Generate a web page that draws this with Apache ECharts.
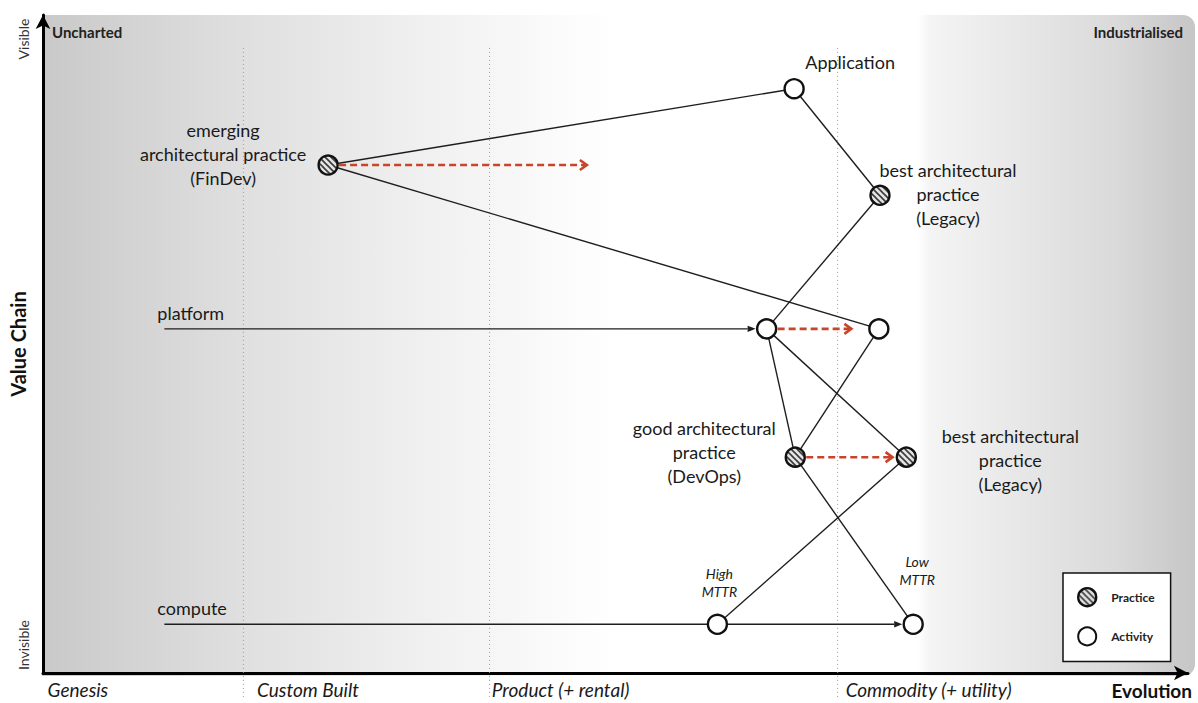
<!DOCTYPE html>
<html>
<head>
<meta charset="utf-8">
<script src="https://cdn.jsdelivr.net/npm/echarts@6/dist/echarts.min.js"></script>
<style>
html,body{margin:0;padding:0;background:#fff;}
#chart{width:1198px;height:703px;}
</style>
</head>
<body>
<div id="chart"></div>
<script>
// ---------------- DATA ----------------
const nodeIds        = ['Application','FinDev','LegacyTop','PlatformA','PlatformB','DevOps','LegacyLow','ComputeHigh','ComputeLow'];
const nodeEvolution  = [65.6, 24.9, 73.1, 63.2, 73.0, 65.7, 75.4, 58.9, 76.0];
const nodeVisibility = [88.8, 77.2, 72.6, 52.3, 52.3, 32.8, 32.8, 7.4, 7.4];
const nodeKinds      = ['Activity','Practice','Practice','Activity','Activity','Practice','Practice','Activity','Activity'];
const nodeLabels     = ['Application','emerging\narchitectural practice\n(FinDev)','best architectural\npractice\n(Legacy)','','','good architectural\npractice\n(DevOps)','best architectural\npractice\n(Legacy)','High\nMTTR','Low\nMTTR'];

const edges = [
  ['FinDev','Application'], ['FinDev','PlatformB'], ['Application','LegacyTop'],
  ['LegacyTop','PlatformA'], ['PlatformA','DevOps'], ['PlatformA','LegacyLow'],
  ['PlatformB','DevOps'], ['DevOps','ComputeLow'], ['LegacyLow','ComputeHigh']
];

// value-chain flows
const chainNames  = ['platform','compute',''];
const chainFromX  = [10.6, 10.6, null];
const chainFrom   = [null, null, 'ComputeHigh'];
const chainTo     = ['PlatformA','ComputeHigh','ComputeLow'];
const chainArrow  = [1, 0, 1];

// evolution movements (red dashed)
const moveFrom = ['FinDev','PlatformA','DevOps'];
const moveToX  = [47.5, 70.6, 74.2];

// evolution stages
const stageNames  = ['Genesis','Custom Built','Product (+ rental)','Commodity (+ utility)'];
const stageLabelX = [0.4, 18.7, 39.2, 70.1];
const stageLineX  = [17.5, 39.0, 69.4];
const stageLineTop = 95.0, stageLineBottom = -4.1;

// ---------------- STYLE ----------------
const FONT = 'Lato, "Open Sans", sans-serif';
const labelOffsets = {
  Application:[56,-27], FinDev:[-105,-11], LegacyTop:[68,-1], DevOps:[-91,-5],
  LegacyLow:[104,3], ComputeHigh:[2,-42], ComputeLow:[4,-54]
};
const smallItalic = {ComputeHigh:true, ComputeLow:true};
const R = 9.5;

function hatchPattern(){
  const s = 6, c = document.createElement('canvas');
  c.width = s; c.height = s;
  const g = c.getContext('2d');
  g.fillStyle = '#e4e4e4'; g.fillRect(0,0,s,s);
  g.strokeStyle = '#3a3a3a'; g.lineWidth = 1.6;
  g.beginPath();
  g.moveTo(-1,-1); g.lineTo(s+1,s+1);
  g.moveTo(s-2,-2); g.lineTo(s+2,2);
  g.moveTo(-2,s-2); g.lineTo(2,s+2);
  g.stroke();
  return c;
}
const hatch = {image: hatchPattern(), repeat: 'repeat'};

const idx = id => nodeIds.indexOf(id);
const pos = id => [nodeEvolution[idx(id)], nodeVisibility[idx(id)]];

function labelStyle(id){
  const small = smallItalic[id];
  return {
    fontFamily: FONT, color:'#1a1a1a',
    fontSize: small ? 14 : 18, lineHeight: small ? 18 : 24,
    fontStyle: small ? 'italic' : 'normal'
  };
}

function activityData(){
  const out = [];
  nodeIds.forEach((id,i)=>{
    if (nodeKinds[i] !== 'Activity') return;
    const item = {name:id, value:[nodeEvolution[i], nodeVisibility[i]]};
    if (nodeLabels[i]) {
      item.label = Object.assign({
        show:true, position:'inside', offset: labelOffsets[id],
        formatter: nodeLabels[i], align:'center', verticalAlign:'middle'
      }, labelStyle(id));
    }
    out.push(item);
  });
  return out;
}
const practiceIdx = nodeIds.map((id,i)=>i).filter(i => nodeKinds[i]==='Practice');
const practiceData = practiceIdx.map(i => [nodeEvolution[i], nodeVisibility[i], i]);

const edgeData = edges.map(e => pos(e[0]).concat(pos(e[1])));
const chainData = chainTo.map((to,i)=>{
  const start = chainFrom[i] ? pos(chainFrom[i]) : [chainFromX[i], pos(to)[1]];
  return start.concat(pos(to)).concat([chainArrow[i], i]);
});
const moveData = moveFrom.map((f,i)=> pos(f).concat([moveToX[i], pos(f)[1]]));
const stageData = stageLineX.map(x => [x, stageLineTop, stageLineBottom]);

function unit(a,b){const dx=b[0]-a[0],dy=b[1]-a[1],l=Math.hypot(dx,dy)||1;return [dx/l,dy/l];}

const chart = echarts.init(document.getElementById('chart'), null, {renderer:'svg'});
chart.setOption({
  animation:false,
  backgroundColor:'#fff',
  grid:{left:40, right:10, top:15, bottom:30, show:false},
  xAxis:{
    type:'value', min:0, max:100,
    axisLine:{show:true, onZero:false, lineStyle:{color:'#000', width:3}, symbol:['none','arrow'], symbolSize:[11,14]},
    axisTick:{show:false}, splitLine:{show:false},
    axisLabel:{
      customValues: stageLabelX,
      formatter: v => stageNames[stageLabelX.indexOf(v)] || '',
      align:'left', margin:7, fontStyle:'italic', fontSize:19, color:'#1a1a1a', fontFamily:FONT
    }
  },
  yAxis:{
    type:'value', min:0, max:100,
    axisLine:{show:true, onZero:false, lineStyle:{color:'#000', width:3}, symbol:['none','arrow'], symbolSize:[11,14]},
    axisTick:{show:false}, splitLine:{show:false}, axisLabel:{show:false},
    name:'Value Chain', nameLocation:'middle', nameGap:15,
    nameTextStyle:{fontSize:20, fontWeight:'bold', color:'#111', fontFamily:FONT}
  },
  legend:{
    data:[{name:'Practice', itemStyle:{color:hatch, borderColor:'#111', borderWidth:2.4}}, {name:'Activity'}],
    orient:'vertical', left:1063, top:573,
    padding:[14,16,15,14], itemGap:19, itemWidth:18, itemHeight:18, icon:'circle',
    backgroundColor:'#fff', borderColor:'#111', borderWidth:1.5,
    textStyle:{fontSize:12, fontWeight:'bold', color:'#222', fontFamily:FONT, padding:[0,0,0,10]}
  },
  graphic:[
    {type:'rect', z:-10, silent:true, shape:{x:42, y:15, width:1153, height:661, r:[0,12,12,0]},
     style:{fill:new echarts.graphic.LinearGradient(0,0,1,0,[
       {offset:0, color:'#c9c9c9'},{offset:0.17, color:'#dfdfdf'},{offset:0.31, color:'#eeeeee'},
       {offset:0.45, color:'#fbfbfb'},{offset:0.5, color:'#ffffff'},{offset:0.76, color:'#ffffff'},
       {offset:0.77, color:'#f4f4f4'},{offset:0.85, color:'#e7e7e7'},{offset:0.93, color:'#dadada'},
       {offset:1, color:'#c6c6c6'}])}},
    {type:'text', x:52, y:32, style:{text:'Uncharted', font:'bold 15px '+FONT, fill:'#222', verticalAlign:'middle'}},
    {type:'text', x:1183, y:32, style:{text:'Industrialised', font:'bold 15px '+FONT, fill:'#222', align:'right', verticalAlign:'middle'}},
    {type:'text', x:23, y:39, rotation:Math.PI/2, style:{text:'Visible', font:'14px '+FONT, fill:'#333', align:'center', verticalAlign:'middle'}},
    {type:'text', x:23, y:645, rotation:Math.PI/2, style:{text:'Invisible', font:'14px '+FONT, fill:'#333', align:'center', verticalAlign:'middle'}},
    {type:'text', x:1192, y:690, style:{text:'Evolution', font:'bold 19px '+FONT, fill:'#111', align:'right', verticalAlign:'middle'}}
  ],
  series:[
    { // stage boundaries
      type:'custom', silent:true, z:1, data:stageData,
      renderItem:(p,api)=>{
        const a=api.coord([api.value(0),api.value(1)]), b=api.coord([api.value(0),api.value(2)]);
        return {type:'line', shape:{x1:a[0],y1:a[1],x2:b[0],y2:b[1]}, style:{stroke:'#9a9a9a', lineWidth:1, lineDash:[1,3]}};
      }
    },
    { // dependencies
      type:'custom', silent:true, z:3, data:edgeData,
      renderItem:(p,api)=>{
        const a=api.coord([api.value(0),api.value(1)]), b=api.coord([api.value(2),api.value(3)]);
        return {type:'line', shape:{x1:a[0],y1:a[1],x2:b[0],y2:b[1]}, style:{stroke:'#1e1e1e', lineWidth:1.4}};
      }
    },
    { // value chain flows
      type:'custom', silent:true, z:3, data:chainData,
      renderItem:(p,api)=>{
        const a=api.coord([api.value(0),api.value(1)]), b0=api.coord([api.value(2),api.value(3)]);
        const u=unit(a,b0), hasArrow=api.value(4), name=chainNames[api.value(5)];
        const tip=[b0[0]-u[0]*(R+1.5), b0[1]-u[1]*(R+1.5)];
        const children=[];
        const L=8, W=3.2;
        const base=[tip[0]-u[0]*L, tip[1]-u[1]*L];
        const end = hasArrow ? base : b0;
        children.push({type:'line', shape:{x1:a[0],y1:a[1],x2:end[0],y2:end[1]}, style:{stroke:'#1e1e1e', lineWidth:1.4}});
        if (hasArrow) children.push({type:'polygon', shape:{points:[tip,[base[0]-u[1]*W, base[1]+u[0]*W],[base[0]+u[1]*W, base[1]-u[0]*W]]}, style:{fill:'#1e1e1e'}});
        if (name) children.push({type:'text', x:a[0]-7, y:a[1]-16, style:{text:name, font:'18px '+FONT, fill:'#1a1a1a', verticalAlign:'middle'}});
        return {type:'group', children};
      }
    },
    { // evolution movement
      type:'custom', silent:true, z:4, data:moveData,
      renderItem:(p,api)=>{
        const a0=api.coord([api.value(0),api.value(1)]), b=api.coord([api.value(2),api.value(3)]);
        const u=unit(a0,b);
        const a=[a0[0]+u[0]*(R+1.5), a0[1]+u[1]*(R+1.5)];
        const L=7, W=5;
        const back=[b[0]-u[0]*L, b[1]-u[1]*L];
        return {type:'group', children:[
          {type:'line', shape:{x1:a[0],y1:a[1],x2:b[0]-u[0]*2,y2:b[1]-u[1]*2}, style:{stroke:'#c8442a', lineWidth:2.6, lineDash:[7,4]}},
          {type:'polyline', shape:{points:[[back[0]-u[1]*W, back[1]+u[0]*W], b, [back[0]+u[1]*W, back[1]-u[0]*W]]}, style:{stroke:'#c8442a', lineWidth:2.6, fill:null}}
        ]};
      }
    },
    { // practice nodes (hatched)
      name:'Practice', type:'custom', z:6, silent:true, data:practiceData,
      itemStyle:{color:hatch, borderColor:'#111', borderWidth:2.4},
      renderItem:(p,api)=>{
        const c=api.coord([api.value(0),api.value(1)]);
        const i=api.value(2), id=nodeIds[i], off=labelOffsets[id]||[0,0], ls=labelStyle(id);
        const children=[{type:'circle', shape:{cx:c[0], cy:c[1], r:R}, style:{fill:hatch, stroke:'#111', lineWidth:2.4}}];
        if (nodeLabels[i]) children.push({type:'text', x:c[0]+off[0], y:c[1]+off[1], style:{
          text:nodeLabels[i], font:(ls.fontStyle==='italic'?'italic ':'')+ls.fontSize+'px '+FONT,
          lineHeight:ls.lineHeight, fill:ls.color, align:'center', verticalAlign:'middle'}});
        return {type:'group', children};
      }
    },
    {
      name:'Activity', type:'scatter', z:6, symbol:'circle', symbolSize:19,
      itemStyle:{color:'#fff', borderColor:'#111', borderWidth:2.4, opacity:1},
      emphasis:{disabled:true},
      data:activityData()
    }
  ]
});
</script>
</body>
</html>
